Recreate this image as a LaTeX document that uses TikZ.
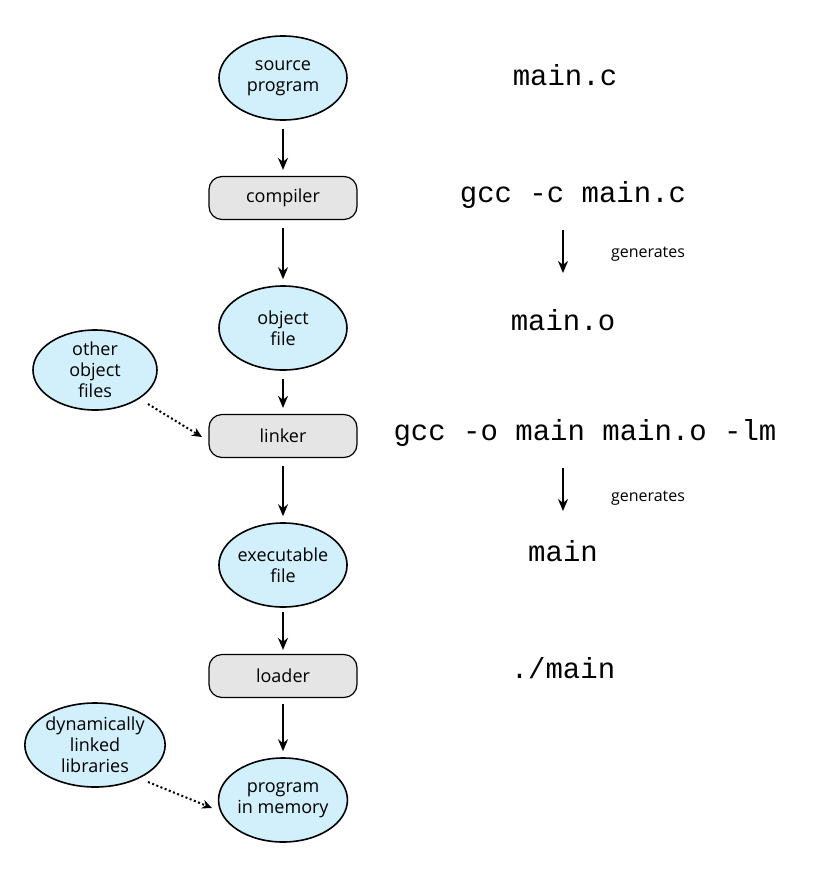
\documentclass[tikz,border=0pt]{standalone}
\usepackage{fontspec}
\setmainfont{Open Sans}
\setmonofont{Liberation Mono}
\usetikzlibrary{arrows.meta,shapes.geometric}
\begin{document}
\begin{tikzpicture}[x=1pt,y=-1pt,
 ell/.style={ellipse,draw,line width=1.6pt,fill=cyan!18!white,minimum width=128pt,minimum height=84pt,align=center,font=\fontsize{18}{21}\selectfont,inner sep=0pt},
 proc/.style={rectangle,rounded corners=13pt,draw,line width=1.2pt,fill=black!10,minimum width=148pt,minimum height=43pt,font=\fontsize{18}{21}\selectfont},
 cmd/.style={font=\ttfamily\fontsize{29}{31}\selectfont},
 lab/.style={font=\fontsize{16}{18}\selectfont},
 arr/.style={-{Stealth[length=12pt,width=10pt]},line width=1.8pt},
 dot/.style={-{Stealth[length=10pt,width=9pt]},line width=2pt,dash pattern=on 2pt off 2.5pt}]
\useasboundingbox (0,0) rectangle (816,873);
\node[ell] (src) at (283,78) {source\\program};
\node[proc] (comp) at (283,198) {compiler};
\node[ell] (obj) at (283,328) {object\\file};
\node[proc] (link) at (283,436) {linker};
\node[ell] (exe) at (283,565) {executable\\file};
\node[proc] (load) at (283,676) {loader};
\node[ell] (mem) at (283,800) {program\\in memory};
\node[ell,minimum width=124pt,minimum height=80pt] (oth) at (95,370) {other\\object\\files};
\node[ell,minimum width=124pt,minimum height=84pt] (dyn) at (95,745) {dynamically\\linked\\libraries};
\draw[arr,shorten <=8pt,shorten >=6pt] (src) -- (comp);
\draw[arr,shorten <=8pt,shorten >=6pt] (comp) -- (obj);
\draw[arr,shorten <=8pt,shorten >=6pt] (obj) -- (link);
\draw[arr,shorten <=8pt,shorten >=6pt] (link) -- (exe);
\draw[arr,shorten <=4pt,shorten >=4pt] (exe) -- (load);
\draw[arr,shorten <=6pt,shorten >=6pt] (load) -- (mem);
\coordinate (o1) at (148,404); \coordinate (o2) at (202,437);
\draw[dot] (o1) -- (o2);
\coordinate (d1) at (148,782); \coordinate (d2) at (212,808);
\draw[dot] (d1) -- (d2);
\node[cmd] (t1) at (565,75) {main.c};
\node[cmd] (t2) at (573,195) {gcc -c main.c};
\node[cmd] (t3) at (563,320) {main.o};
\node[cmd] (t4) at (585,433) {gcc -o main main.o -lm};
\node[cmd] (t5) at (563,551) {main};
\node[cmd] (t6) at (563,668) {./main};
\coordinate (g1a) at (563,230); \coordinate (g1b) at (563,273);
\draw[arr] (g1a) -- (g1b);
\coordinate (g2a) at (563,468); \coordinate (g2b) at (563,511);
\draw[arr] (g2a) -- (g2b);
\node[lab] (l1) at (648,254) {generates};
\node[lab] (l2) at (648,498) {generates};
\end{tikzpicture}
\end{document}
